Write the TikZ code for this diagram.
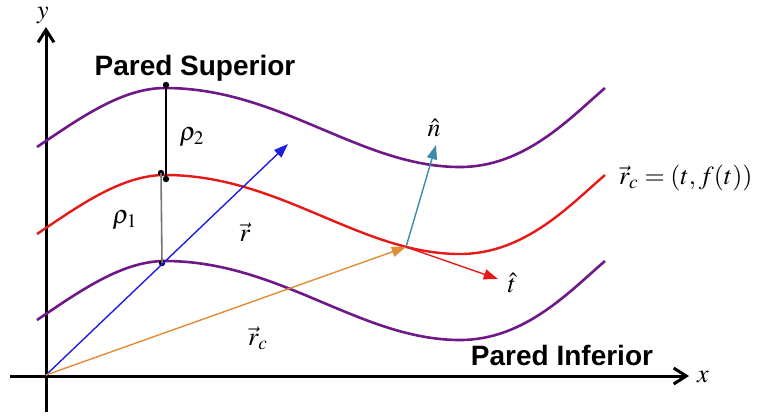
\documentclass[tikz,border=0pt]{standalone}
\usepackage{mathptmx}
\usepackage{fontspec}
\setsansfont{Liberation Sans}
\usetikzlibrary{arrows.meta}
\definecolor{paredc}{RGB}{110,25,135}
\definecolor{centroc}{RGB}{230,25,25}
\definecolor{radioc}{RGB}{30,30,225}
\definecolor{radiocc}{RGB}{225,140,55}
\definecolor{normalc}{RGB}{60,140,170}
\tikzset{
  eje/.style={line width=1.5pt, -{Straight Barb[length=2.2mm,width=2.8mm]}},
  pared/.style={line width=1.3pt, draw=paredc},
  centro/.style={line width=1.2pt, draw=centroc},
  vector/.style={line width=0.7pt, -{Triangle[length=2.5mm,width=1.8mm]}},
  punto/.style={circle, fill=black, inner sep=0pt, minimum size=3.2pt},
  rotulo/.style={font=\sffamily\bfseries\fontsize{14}{16}\selectfont},
  etiq/.style={font=\fontsize{13}{15}\selectfont}
}

\begin{document}
\begin{tikzpicture}[x=0.5pt, y=-0.5pt]
  \useasboundingbox (0,0) rectangle (758,419);
  % ejes
  \coordinate (O) at (46,375);
  \coordinate (xini) at (10,376);
  \coordinate (xfin) at (689,376);
  \coordinate (yini) at (46,412);
  \coordinate (yfin) at (46,27);
  \draw[eje] (xini) -- (xfin);
  \draw[eje] (yini) -- (yfin);
  \node[etiq] (ly) at (43,15) {$y$};
  \node[etiq] (lx) at (703,377) {$x$};
  % paredes y linea central
  \foreach \d/\estilo in {0/pared, 87/centro, 173/pared}
    \draw[\estilo] (37,{147+\d}) .. controls (80,{118+\d}) and (122,{88+\d}) .. (165,{88+\d})
      .. controls (280,{88+\d}) and (360,{167+\d}) .. (460,{167+\d})
      .. controls (525,{167+\d}) and (570,{118+\d}) .. (605,{88+\d});
  \node[rotulo] (sup) at (195,68) {Pared Superior};
  \node[rotulo] (inf) at (562,355) {Pared Inferior};
  % distancias
  \node[punto] (s) at (166,85) {};
  \node[punto] (m2) at (166,179) {};
  \node[punto] (m1) at (161,173) {};
  \node[punto] (i) at (162,263) {};
  \draw[line width=0.8pt] (s.center) -- (m2.center);
  \draw[line width=0.8pt, black!55] (m1.center) -- (i.center);
  \node[etiq] (rho2) at (192,137) {$\rho_2$};
  \node[etiq] (rho1) at (125,220) {$\rho_1$};
  % vectores
  \coordinate (rfin) at (288,144);
  \coordinate (P) at (406,247);
  \coordinate (nfin) at (436,145);
  \coordinate (tfin) at (498,279);
  \draw[vector, radioc] (O) -- (rfin);
  \draw[vector, radiocc] (O) -- (P);
  \draw[vector, normalc] (P) -- (nfin);
  \draw[vector, centroc] (P) -- (tfin);
  \node[etiq] (lr) at (245,232) {$\vec{r}$};
  \node[etiq] (lrc) at (258,338) {$\vec{r}_c$};
  \node[etiq] (ln) at (434,128) {$\hat{n}$};
  \node[etiq] (lt) at (512,283) {$\hat{t}$};
  \node[etiq, anchor=west] (lcurva) at (612,178) {$\vec{r}_c=(t,f(t))$};
\end{tikzpicture}
\end{document}
